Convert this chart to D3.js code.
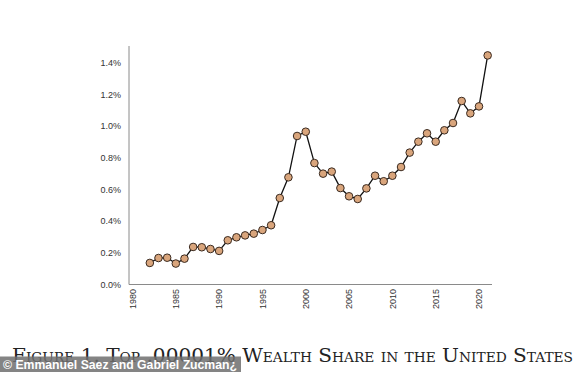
<!DOCTYPE html>
<html><head><meta charset="utf-8">
<script src="https://cdn.jsdelivr.net/npm/d3@7"></script>
<style>body{margin:0;background:#fff;}svg{display:block;}</style>
</head><body>
<svg id="c" width="586" height="372"></svg>
<script>
const years = [1982,1983,1984,1985,1986,1987,1988,1989,1990,1991,1992,1993,1994,1995,1996,1997,1998,1999,2000,2001,2002,2003,2004,2005,2006,2007,2008,2009,2010,2011,2012,2013,2014,2015,2016,2017,2018,2019,2020,2021];
const shares = [0.135,0.166,0.168,0.131,0.162,0.236,0.234,0.223,0.211,0.278,0.297,0.309,0.320,0.343,0.373,0.545,0.676,0.937,0.964,0.766,0.699,0.712,0.608,0.556,0.539,0.606,0.686,0.651,0.686,0.741,0.832,0.901,0.954,0.901,0.973,1.019,1.158,1.080,1.124,1.446];
const xTicks = [1980,1985,1990,1995,2000,2005,2010,2015,2020];
const yTicks = [0,0.2,0.4,0.6,0.8,1.0,1.2,1.4];
const caption = "Figure 1. Top .00001% Wealth Share in the United States";
const credit = "© Emmanuel Saez and Gabriel Zucman¿";

const svg = d3.select("#c");
const x = d3.scaleLinear().domain([1980,2020]).range([132.5,479]);
const y = d3.scaleLinear().domain([0,1.4]).range([284.3,62.7]);

// axes lines
svg.append("line").attr("x1",129).attr("x2",129).attr("y1",46).attr("y2",284.5)
  .attr("stroke","#8a8a8a").attr("stroke-width",1);
svg.append("line").attr("x1",129).attr("x2",492).attr("y1",284.5).attr("y2",284.5)
  .attr("stroke","#8a8a8a").attr("stroke-width",1);

svg.selectAll("text.yt").data(yTicks).enter().append("text")
  .attr("class","yt").attr("x",121).attr("y",d=>y(d)+3.3)
  .attr("text-anchor","end").attr("font-family","Liberation Sans, Arial, sans-serif")
  .attr("font-size",9).attr("fill","#333").text(d=>d.toFixed(1)+"%");

svg.selectAll("text.xt").data(xTicks).enter().append("text")
  .attr("class","xt")
  .attr("transform",d=>`translate(${x(d)+3.2},289) rotate(-90)`)
  .attr("text-anchor","end").attr("font-family","Liberation Sans, Arial, sans-serif")
  .attr("font-size",9).attr("fill","#333").text(d=>d);

const pts = years.map((d,i)=>[d,shares[i]]);
svg.append("path").datum(pts)
  .attr("d",d3.line().x(d=>x(d[0])).y(d=>y(d[1])))
  .attr("fill","none").attr("stroke","#111").attr("stroke-width",1.3);
svg.selectAll("circle").data(pts).enter().append("circle")
  .attr("cx",d=>x(d[0])).attr("cy",d=>y(d[1])).attr("r",3.8)
  .attr("fill","#d9a57c").attr("stroke","#3a2a20").attr("stroke-width",1);

svg.append("text").attr("x",12).attr("y",361.5)
  .attr("font-family","DejaVu Serif, Liberation Serif, serif")
  .attr("font-size",19).attr("font-variant","small-caps").attr("fill","#222")
  .attr("textLength",561).attr("lengthAdjust","spacingAndGlyphs")
  .text(caption);

svg.append("rect").attr("x",0).attr("y",356.5).attr("width",241).attr("height",15.5)
  .attr("fill","#6e6e6e").attr("opacity",0.85);
svg.append("text").attr("x",3).attr("y",368.5)
  .attr("font-family","Liberation Sans, Arial, sans-serif").attr("font-weight","bold")
  .attr("font-size",12).attr("fill","#fff")
  .attr("textLength",234).attr("lengthAdjust","spacingAndGlyphs")
  .text(credit);
</script>
</body></html>
